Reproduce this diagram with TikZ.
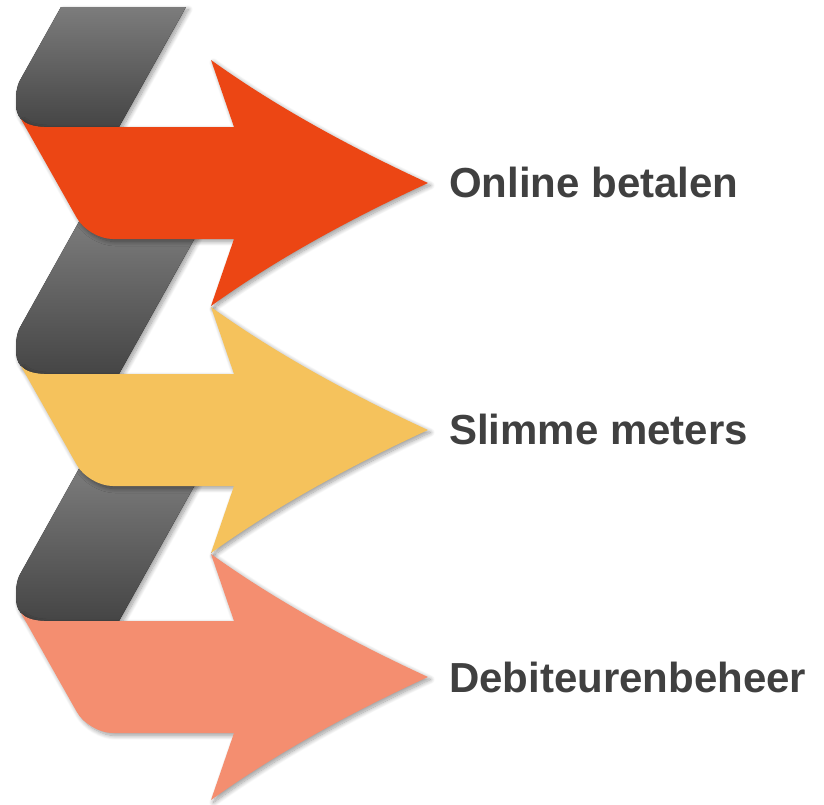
\documentclass[tikz,border=0pt]{standalone}
\usepackage{fontspec}
\setmainfont{Liberation Sans}
\usetikzlibrary{shadows.blur}
\definecolor{gtop}{HTML}{7C7C7C}
\definecolor{gbot}{HTML}{454545}
\definecolor{cOrange}{HTML}{EC4614}
\definecolor{cYellow}{HTML}{F5C25C}
\definecolor{cSalmon}{HTML}{F48E70}
\definecolor{txt}{HTML}{404040}
\tikzset{
  softshadow/.style={blur shadow={shadow xshift=2.5pt, shadow yshift=-2.5pt, shadow blur radius=4.5pt, shadow blur steps=12, shadow opacity=40}},
  ribbon/.style={top color=gtop, bottom color=gbot, draw=none, softshadow},
  arrowbody/.style={fill=#1, draw=none, softshadow},
  lbl/.style={anchor=base west, inner sep=0pt, text=txt, font=\fontsize{42}{50}\selectfont\bfseries},
}
\begin{document}
\begin{tikzpicture}[x=1pt,y=-1pt]
\useasboundingbox (0,0) rectangle (824,804);
% gray ribbon segments
\begin{scope}[shift={(0,183)}]
  \fill[ribbon] (61,-176) -- (186,-176) -- (119,-56) -- (44,-56)
     .. controls (20,-57) and (16,-68) .. (16,-80)
     .. controls (16,-88) and (16.3,-96) .. (20.2,-103) -- cycle;
\end{scope}
\foreach \ty in {430,677}{
\begin{scope}[shift={(0,\ty)}]
  \fill[ribbon] (79.9,-210) -- (204.9,-210) -- (119,-56) -- (44,-56)
     .. controls (20,-57) and (16,-68) .. (16,-80)
     .. controls (16,-88) and (16.3,-96) .. (20.2,-103) -- cycle;
\end{scope}
}
% arrows
\foreach \ty/\col/\nm in {183/cOrange/a1,430/cYellow/a2,677/cSalmon/a3}{
\begin{scope}[shift={(0,\ty)}]
  \fill[arrowbody=\col] (21,-63.9) .. controls (25,-59.5) and (32,-56.5) .. (44,-56)
     -- (234,-56) -- (211,-123)
     .. controls (270.3,-80.3) and (342.7,-39.3) .. (428,0)
     .. controls (342.7,39.3) and (270.3,80.3) .. (211,123)
     -- (234,56) -- (112.7,56)
     .. controls (99.5,56) and (83.4,46.6) .. (76.9,35.1) -- cycle;
  \coordinate (\nm) at (428,0);
\end{scope}
}
\node[lbl] (t1) at (449,197) {Online betalen};
\node[lbl] (t2) at (449,444) {Slimme meters};
\node[lbl] (t3) at (449,692) {Debiteurenbeheer};
\end{tikzpicture}
\end{document}
